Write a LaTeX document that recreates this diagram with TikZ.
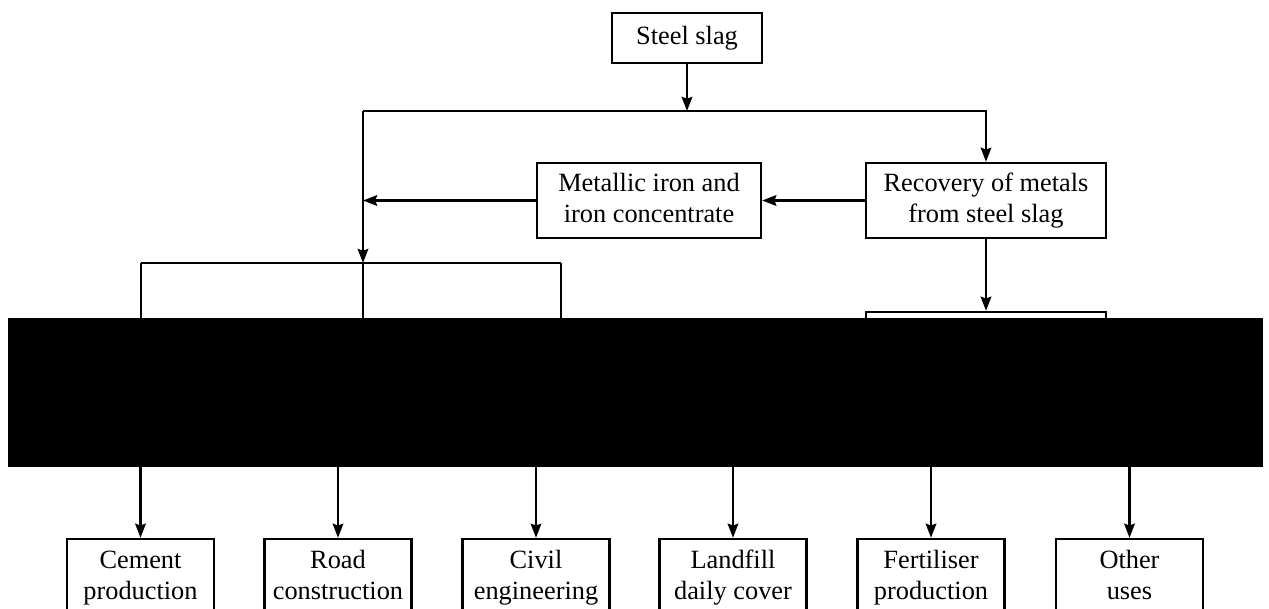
\documentclass[tikz,border=0pt]{standalone}
\usepackage{fontspec}
\setmainfont{Liberation Serif}
\usetikzlibrary{arrows.meta}
\begin{document}
\begin{tikzpicture}[x=0.02cm,y=-0.02cm,
  every node/.style={font=\fontsize{15}{17.6}\selectfont},
  box/.style={draw,line width=1.4pt,align=center,inner sep=0pt},
  topbox/.style={box,minimum width=3.0cm,minimum height=1.0cm},
  midbox/.style={box,minimum height=1.5cm},
  usebox/.style={box,minimum width=2.94cm,minimum height=1.56cm},
  link/.style={line width=1.4pt},
  arr/.style={link,-{Stealth[length=8pt,width=6pt,inset=1pt]}}]
\useasboundingbox (0,0) rectangle (1269,609);
\clip (0,0) rectangle (1269,609);

% source and recovery stage
\node[topbox] (slag) at (687,38) {Steel slag};
\node[midbox,minimum width=4.48cm] (metal) at (649,200.5) {Metallic iron and\strut\\iron concentrate\strut};
\node[midbox,minimum width=4.8cm] (recov) at (986,200.5) {\strut Recovery of metals\\from steel slag\strut};
\node[midbox,minimum width=4.8cm] (proc) at (986,349.5) {};

% end uses
\node[usebox] (u1) at (140.5,578) {\strut Cement\\production\strut};
\node[usebox] (u2) at (338,578) {\strut Road\\construction\strut};
\node[usebox] (u3) at (536,578) {\strut Civil\\engineering\strut};
\node[usebox] (u4) at (733,578) {\strut Landfill\\daily cover\strut};
\node[usebox] (u5) at (931,578) {\strut Fertiliser\\production\strut};
\node[usebox] (u6) at (1129.5,578) {\strut Other\\uses\strut};

% junction points
\coordinate (split) at (687,111);
\coordinate (lt) at (363,111);
\coordinate (bk) at (363,263);
\coordinate (b1) at (141,263);
\coordinate (b3) at (561,263);
\coordinate (h1) at (141,340);
\coordinate (h2) at (363,340);
\coordinate (h3) at (561,340);

% connectors
\draw[arr] (slag) -- (split);
\draw[arr] (lt) -| (recov.north);
\draw[arr] (lt) -- (bk);
\draw[arr] (recov) -- (metal);
\draw[arr] (metal.west) -- (metal.west -| lt);
\draw[arr] (recov) -- (proc);
\draw[link] (b1) -- (b3);
\draw[link] (b1) -- (h1);
\draw[link] (bk) -- (h2);
\draw[link] (b3) -- (h3);

\foreach \i in {1,...,6}{
  \coordinate (s\i) at ([yshift=0.02cm*117]u\i.north);
  \draw[arr] (s\i) -- (u\i.north);
}

% covering band
\fill[black] (8,318) rectangle (1263,467);
\end{tikzpicture}
\end{document}
